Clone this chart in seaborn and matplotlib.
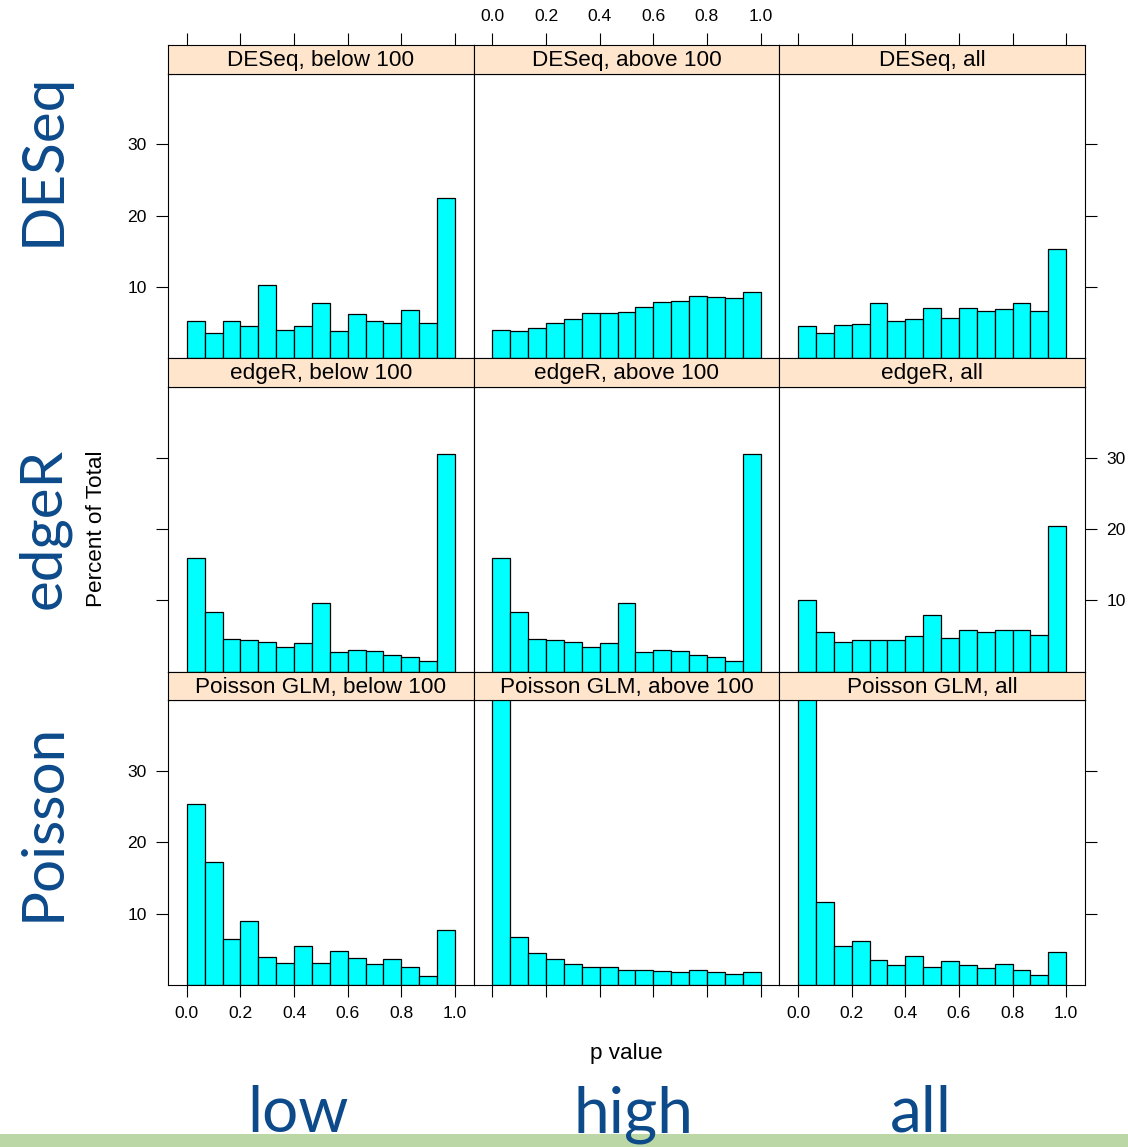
import numpy as np
import matplotlib
matplotlib.use("Agg")
import matplotlib.pyplot as plt
from matplotlib.patches import Rectangle
import seaborn as sns

# ---------------- data (percent of total per p-value bin) ----------------
methods = ["DESeq", "edgeR", "Poisson GLM"]
groups = ["below 100", "above 100", "all"]
row_titles = ["DESeq", "edgeR", "Poisson"]
col_titles = ["low", "high", "all"]
bin_edges = [0.0, 1/15, 2/15, 3/15, 4/15, 5/15, 6/15, 7/15, 8/15, 9/15,
             10/15, 11/15, 12/15, 13/15, 14/15, 1.0]
x_ticks = [0.0, 0.2, 0.4, 0.6, 0.8, 1.0]
x_ticklabels = ["0.0", "0.2", "0.4", "0.6", "0.8", "1.0"]
y_ticks = [10, 20, 30]
y_ticklabels = ["10", "20", "30"]

deseq_below = [5.2, 3.5, 5.3, 4.6, 10.3, 4.0, 4.5, 7.8, 3.8, 6.2, 5.2, 5.0, 6.8, 4.9, 22.5]
deseq_above = [4.0, 3.8, 4.3, 5.0, 5.5, 6.4, 6.4, 6.5, 7.2, 7.9, 8.0, 8.7, 8.6, 8.4, 9.3]
deseq_all = [4.6, 3.6, 4.7, 4.8, 7.7, 5.3, 5.5, 7.1, 5.6, 7.1, 6.7, 6.9, 7.8, 6.7, 15.4]
edger_below = [15.9, 8.3, 4.6, 4.5, 4.2, 3.4, 4.0, 9.6, 2.8, 3.1, 2.9, 2.3, 2.0, 1.5, 30.5]
edger_above = [15.9, 8.3, 4.6, 4.5, 4.2, 3.4, 4.0, 9.6, 2.8, 3.1, 2.9, 2.3, 2.0, 1.5, 30.5]
edger_all = [10.0, 5.5, 4.2, 4.4, 4.5, 4.5, 5.0, 8.0, 4.7, 5.9, 5.6, 5.9, 5.9, 5.1, 20.4]
poisson_below = [25.4, 17.2, 6.4, 8.9, 3.9, 3.1, 5.5, 3.1, 4.8, 3.8, 2.9, 3.7, 2.5, 1.3, 7.7]
poisson_above = [61.9, 6.7, 4.5, 3.7, 3.0, 2.5, 2.5, 2.1, 2.1, 1.9, 1.8, 2.1, 1.8, 1.5, 1.8]
poisson_all = [44.4, 11.6, 5.4, 6.2, 3.5, 2.8, 4.0, 2.5, 3.4, 2.8, 2.4, 2.9, 2.1, 1.4, 4.6]

values = [[deseq_below, deseq_above, deseq_all],
          [edger_below, edger_above, edger_all],
          [poisson_below, poisson_above, poisson_all]]

# ---------------- style ----------------
plt.rcParams["font.family"] = ["Liberation Sans", "DejaVu Sans"]
W, H = 1128, 1147
fig = plt.figure(figsize=(W / 100, H / 100), dpi=100)
fig.patch.set_facecolor("white")

BIG_COLOR = "#0d4a8a"
STRIP_BG = "#ffe5cc"
BAR_COLOR = "#00ffff"
LW = 0.8
TICK_LEN = 8.3
TICK_FS = 12.6
STRIP_FS = 16.2

col_left = [168.0, 473.7, 779.3]
panel_w = 305.7
row_top = [45.0, 358.3, 671.6]
strip_h = 28.5
panel_h = 284.8

XLIM = (-0.07, 1.07)
YLIM = (0, 39.95)

edges = np.array(bin_edges)
centers = (edges[:-1] + edges[1:]) / 2


def frac(x, y, w, h):
    return [x / W, 1 - (y + h) / H, w / W, h / H]


for r in range(3):
    for c in range(3):
        x0 = col_left[c]
        # panel
        ax = fig.add_axes(frac(x0, row_top[r] + strip_h, panel_w, panel_h))
        sns.histplot(x=centers, weights=values[r][c], bins=bin_edges, ax=ax,
                     color=BAR_COLOR, alpha=1, edgecolor="black", linewidth=0.9,
                     stat="count")
        ax.set_xlim(*XLIM)
        ax.set_ylim(*YLIM)
        ax.set_xlabel("")
        ax.set_ylabel("")
        for s in ax.spines.values():
            s.set_linewidth(LW)
            s.set_color("black")
        ax.set_xticks(x_ticks)
        ax.set_xticklabels(x_ticklabels)
        ax.set_yticks(y_ticks)
        ax.set_yticklabels(y_ticklabels)
        ax.tick_params(axis="both", direction="out", length=TICK_LEN, width=LW,
                       labelsize=TICK_FS, pad=7,
                       bottom=False, top=False, left=False, right=False,
                       labelbottom=False, labeltop=False, labelleft=False,
                       labelright=False)
        if c == 0:
            ax.tick_params(axis="y", left=True, labelleft=(r != 1))
        if c == 2:
            ax.tick_params(axis="y", right=True, labelright=(r == 1))
        if r == 2:
            ax.tick_params(axis="x", bottom=True, labelbottom=(c != 1))

        # strip
        sax = fig.add_axes(frac(x0, row_top[r], panel_w, strip_h))
        sax.set_facecolor(STRIP_BG)
        sax.set_xlim(*XLIM)
        sax.set_ylim(0, 1)
        for s in sax.spines.values():
            s.set_linewidth(LW)
            s.set_color("black")
        sax.set_yticks([])
        sax.set_xticks(x_ticks)
        sax.set_xticklabels(x_ticklabels)
        sax.tick_params(axis="x", direction="out", length=TICK_LEN, width=LW,
                        labelsize=TICK_FS, pad=7, bottom=False,
                        labelbottom=False, top=(r == 0),
                        labeltop=(r == 0 and c == 1))
        sax.text(0.5, 0.45, f"{methods[r]}, {groups[c]}", transform=sax.transAxes,
                 ha="center", va="center", fontsize=STRIP_FS, color="black")

# axis titles
fig.text(96 / W, 1 - 529 / H, "Percent of Total", rotation=90, ha="center",
         va="center", fontsize=STRIP_FS)
fig.text(626 / W, 1 - 1053 / H, "p value", ha="center", va="center",
         fontsize=STRIP_FS)

# green band at the bottom
fig.patches.append(Rectangle((0, 0), 1, (H - 1134) / H, transform=fig.transFigure,
                             facecolor="#bbd7a5", edgecolor="none", zorder=0))

# big row / column labels
row_y = [159, 528, 822]
for name, yc in zip(row_titles, row_y):
    fig.text(60 / W, 1 - yc / H, name, rotation=90, rotation_mode="anchor",
             ha="center", va="baseline", fontsize=42, color=BIG_COLOR,
             family=["Lato", "DejaVu Sans"], zorder=5)

col_x = [298, 633, 921]
for name, xc in zip(col_titles, col_x):
    fig.text(xc / W, 1 - 1132 / H, name, ha="center", va="baseline",
             fontsize=46, color=BIG_COLOR, family=["Lato", "DejaVu Sans"],
             zorder=5)

fig.savefig("out.png", dpi=100)
